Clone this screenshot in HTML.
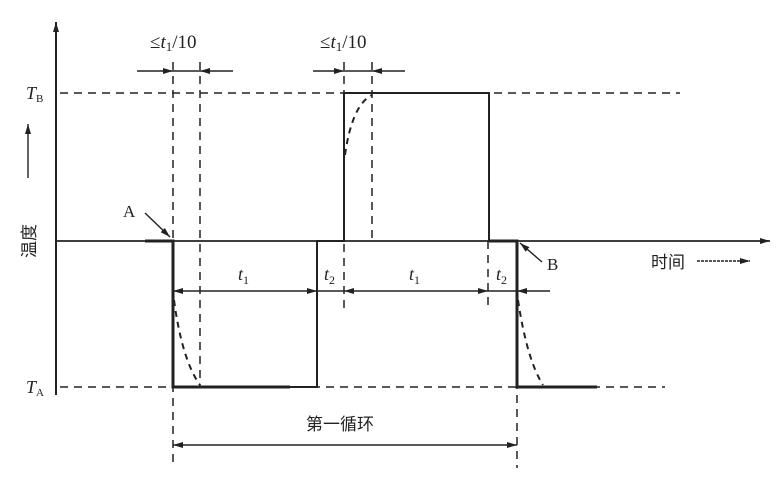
<!DOCTYPE html>
<html><head><meta charset="utf-8"><style>
html,body{margin:0;padding:0;background:#fff;}
svg{display:block;}
text{font-family:"Liberation Serif","Noto Serif CJK SC",serif;fill:#222;font-weight:normal;}
.cjk{font-family:"Liberation Sans","Noto Sans CJK SC",sans-serif;}
</style></head><body>
<svg width="784" height="500" viewBox="0 0 784 500" xmlns="http://www.w3.org/2000/svg">
<defs>
<marker id="ar" markerWidth="10" markerHeight="6" refX="10" refY="3" orient="auto" markerUnits="userSpaceOnUse"><path d="M0,0 L10,3 L0,6 Z" fill="#222"/></marker>
</defs>
<g stroke="#222" fill="none">
<line x1="56" y1="395" x2="56" y2="22" stroke-width="2" marker-end="url(#ar)"/>
<line x1="56" y1="241" x2="770" y2="241" stroke-width="1.8" marker-end="url(#ar)"/>
<g stroke-dasharray="8,6" stroke-width="1.5">
<line x1="60" y1="93" x2="680" y2="93"/>
<line x1="60" y1="387" x2="665" y2="387"/>
<line x1="173" y1="62" x2="173" y2="468"/>
<line x1="200" y1="62" x2="200" y2="387"/>
<line x1="344" y1="62" x2="344" y2="310"/>
<line x1="372" y1="62" x2="372" y2="241"/>
<line x1="488" y1="241" x2="488" y2="310"/>
<line x1="517" y1="241" x2="517" y2="468"/>
</g>
<path d="M145,241 H173 V387 H290" stroke-width="3"/>
<path d="M290,387 H317 V241 H344 V93 H489 V241 H517" stroke-width="2"/>
<path d="M489,241 H517 V387 H597" stroke-width="3"/>
<g stroke-dasharray="6,5" stroke-width="2">
<path d="M174,300 Q182,360 200,385"/>
<path d="M345,155 Q352,105 372,95"/>
<path d="M518,300 Q527,360 543,385"/>
</g>
<g stroke-width="1.4">
<line x1="137" y1="71" x2="173" y2="71" marker-end="url(#ar)"/>
<line x1="233" y1="71" x2="200" y2="71" marker-end="url(#ar)"/>
<line x1="173" y1="71" x2="200" y2="71"/>
<line x1="313" y1="71" x2="344" y2="71" marker-end="url(#ar)"/>
<line x1="405" y1="71" x2="372" y2="71" marker-end="url(#ar)"/>
<line x1="344" y1="71" x2="372" y2="71"/>
<line x1="245" y1="291" x2="173" y2="291" marker-end="url(#ar)"/>
<line x1="245" y1="291" x2="317" y2="291" marker-end="url(#ar)"/>
<line x1="317" y1="291" x2="344" y2="291"/>
<line x1="416" y1="291" x2="344" y2="291" marker-end="url(#ar)"/>
<line x1="416" y1="291" x2="488" y2="291" marker-end="url(#ar)"/>
<line x1="488" y1="291" x2="517" y2="291"/>
<line x1="550" y1="291" x2="517" y2="291" marker-end="url(#ar)"/>
<line x1="345" y1="445" x2="173" y2="445" marker-end="url(#ar)"/>
<line x1="345" y1="445" x2="517" y2="445" marker-end="url(#ar)"/>
<line x1="145" y1="213" x2="170" y2="237" marker-end="url(#ar)"/>
<line x1="542" y1="262" x2="520" y2="243" marker-end="url(#ar)"/>
<line x1="28" y1="178" x2="28" y2="124" marker-end="url(#ar)"/>
<line x1="697" y1="261" x2="750" y2="261" stroke-dasharray="3,1" marker-end="url(#ar)"/>
</g>
</g>
<text x="150" y="48" font-size="19">≤<tspan font-style="italic">t</tspan><tspan font-size="13" dy="3">1</tspan><tspan dy="-3">/10</tspan></text>
<text x="320" y="48" font-size="19">≤<tspan font-style="italic">t</tspan><tspan font-size="13" dy="3">1</tspan><tspan dy="-3">/10</tspan></text>
<text x="26" y="99" font-size="18" font-style="italic">T<tspan font-size="11" font-style="normal" dy="3">B</tspan></text>
<text x="26" y="393" font-size="18" font-style="italic">T<tspan font-size="11" font-style="normal" dy="3">A</tspan></text>
<text x="123" y="217" font-size="17">A</text>
<text x="547" y="270" font-size="17">B</text>
<text x="238" y="280" font-size="18" font-style="italic">t<tspan font-size="12" font-style="normal" dy="4">1</tspan></text>
<text x="324" y="280" font-size="18" font-style="italic">t<tspan font-size="12" font-style="normal" dy="4">2</tspan></text>
<text x="409" y="280" font-size="18" font-style="italic">t<tspan font-size="12" font-style="normal" dy="4">1</tspan></text>
<text x="496" y="280" font-size="18" font-style="italic">t<tspan font-size="12" font-style="normal" dy="4">2</tspan></text>
<text class="cjk" x="651" y="268" font-size="17">时间</text>
<text class="cjk" x="306" y="430" font-size="17">第一循环</text>
<text class="cjk" x="0" y="0" font-size="17" transform="translate(35,258) rotate(-90)">温度</text>
</svg>
</body></html>
